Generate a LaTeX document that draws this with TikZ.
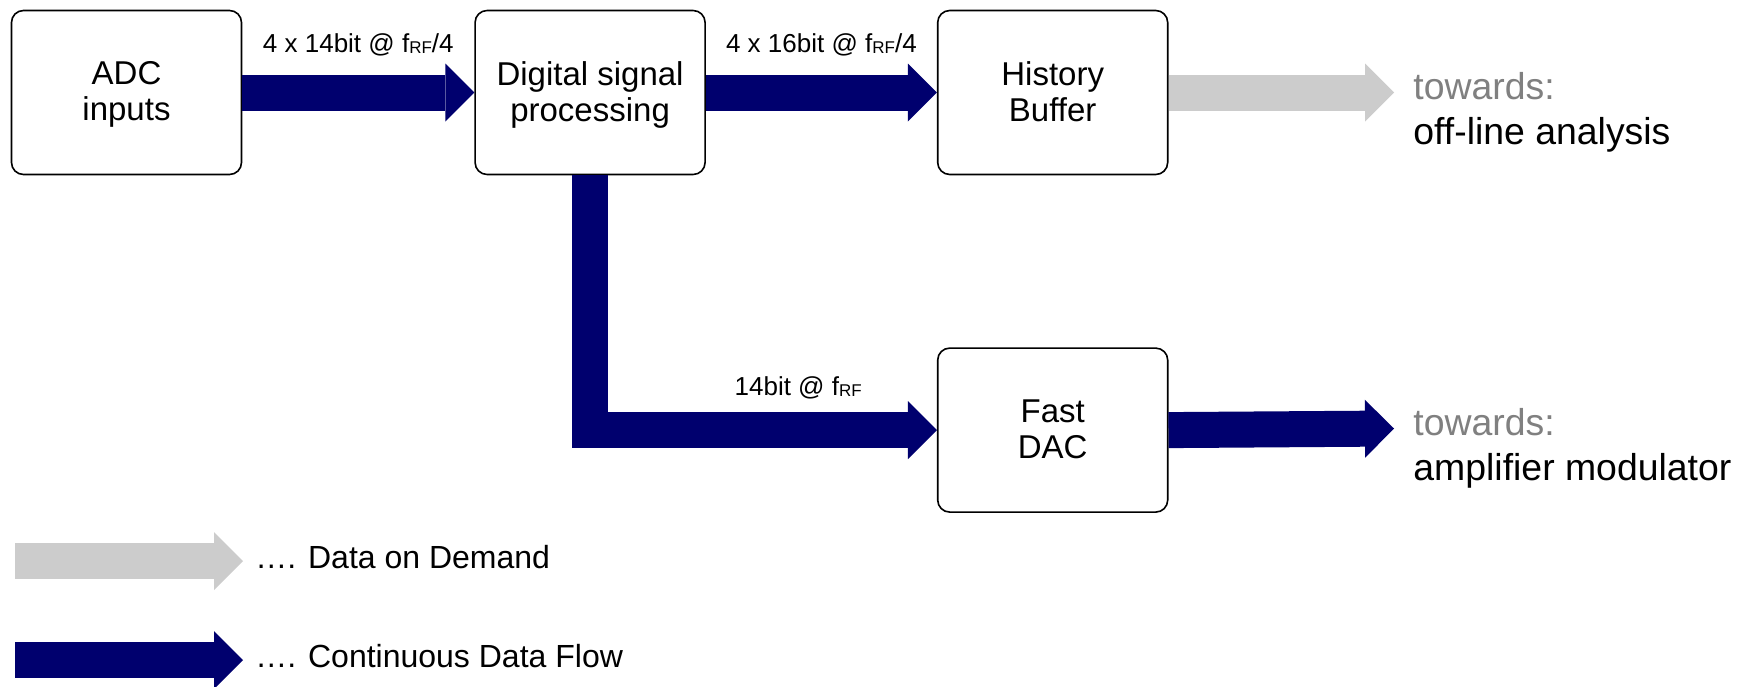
\documentclass[tikz,border=0pt]{standalone}
\usepackage{fontspec}
\setmainfont{Liberation Sans}
\usetikzlibrary{positioning,arrows.meta}

\definecolor{flowblue}{RGB}{0,0,110}
\definecolor{demandgray}{RGB}{204,204,204}
\definecolor{towgray}{RGB}{128,128,128}

\newcommand{\fRF}{f\raisebox{-0.1ex}{\fontsize{8.5}{8.5}\selectfont RF}}
% two lines of a block, last line with a fixed depth
\newcommand{\twolines}[2]{#1\\\raisebox{0pt}[\height][1.4pt]{#2}}

\begin{document}
\begin{tikzpicture}[x=0.5pt, y=-0.5pt,
    block/.style={draw, line width=0.8pt, rounded corners=6pt, fill=white, align=center,
      minimum width=115pt, minimum height=82pt, font=\fontsize{16.5}{18}\selectfont},
    flow/.style={line width=18pt, line cap=butt, draw=flowblue,
      -{Triangle[length=14.5pt 0 0, width=29pt 0 0, line width=0pt 0 0]}},
    demand/.style={flow, draw=demandgray},
    rate/.style={font=\fontsize{13}{15}\selectfont, anchor=base},
    dest/.style={font=\fontsize{18.7}{20}\selectfont, anchor=base west, inner sep=0pt},
    legend/.style={font=\fontsize{16}{18}\selectfont, anchor=base west, inner sep=0pt},
    node distance=116pt]

  \useasboundingbox[fill=white] (0,0) rectangle (1751,686);

  % processing chain
  \node[block] (adc) at (126.5,92.5) {\twolines{ADC}{inputs}};
  \node[block, right=of adc] (dsp) {\twolines{Digital signal}{processing}};
  \node[block, right=115.5pt of dsp] (hist) {\twolines{History}{Buffer}};
  \node[block, below=86pt of hist] (dac) {\twolines{Fast}{DAC}};

  \coordinate (offline) at (1394,92.5);
  \coordinate (amp) at (1394,428.5);

  \draw[flow] (adc.east) -- (dsp.west) node[rate, midway, yshift=20pt] {4 x 14bit @ \fRF/4};
  \draw[flow] (dsp.east) -- (hist.west) node[rate, midway, yshift=20pt] {4 x 16bit @ \fRF/4};
  \draw[flow] (dsp.south) |- (dac.west) node[rate, pos=0.8, yshift=17.5pt] {14bit @ \fRF};
  \draw[demand] (hist.east) -- (offline);
  \draw[flow] (dac.east) -- (amp);

  \node[dest, text=towgray] (tow1) at ([xshift=9.5pt, yshift=-3.5pt]offline) {towards:};
  \node[dest] (analysis) at ([yshift=-22.5pt]tow1.base west) {off-line analysis};
  \node[dest, text=towgray] (tow2) at ([xshift=9.5pt, yshift=-3.5pt]amp) {towards:};
  \node[dest] (modulator) at ([yshift=-22.5pt]tow2.base west) {amplifier modulator};

  % legend
  \coordinate (dems) at (15,561);
  \coordinate (deme) at (243,561);
  \coordinate (cons) at (15,660);
  \coordinate (cone) at (243,660);
  \draw[demand] (dems) -- (deme);
  \draw[flow] (cons) -- (cone);
  \node[legend] (demtxt) at ([xshift=6pt, yshift=-3.5pt]deme) {…. Data on Demand};
  \node[legend] (contxt) at ([xshift=6pt, yshift=-3.5pt]cone) {…. Continuous Data Flow};

\end{tikzpicture}
\end{document}
